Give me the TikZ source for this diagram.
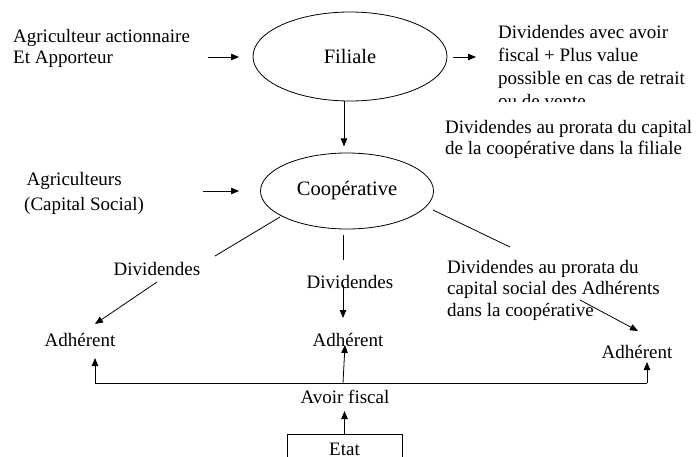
\documentclass[tikz,border=0pt]{standalone}
\usepackage{fontspec}
\setmainfont{Liberation Serif}
\usetikzlibrary{arrows.meta,shapes.geometric}

\begin{document}
\begin{tikzpicture}[x=1pt,y=-1pt,
  txt/.style={inner sep=0pt, font=\fontsize{19}{21.5}\selectfont, align=left},
  oval/.style={draw, ellipse, line width=0.8pt, inner sep=0pt,
               font=\fontsize{20.5}{24}\selectfont},
  link/.style={line width=0.8pt},
  flow/.style={line width=0.8pt, -{Triangle[length=8pt,width=6.5pt]}},
]
\clip (0,0) rectangle (696,456);
\fill[white] (0,0) rectangle (696,456);

% --- top row: shareholders, subsidiary, returns
\node[oval, minimum width=194pt, minimum height=89pt] (fil) at (350,56.5) {Filiale};
\node[txt, anchor=west] (actio) at (13,48.5)
  {Agriculteur actionnaire\\Et Apporteur};
\coordinate (actioEnd) at (208,57);
\draw[flow] (actioEnd) -- ++(31,0);
\coordinate (filOut) at (453,57);
\draw[flow] (filOut) -- ++(23,0);
\begin{scope}
  \clip (490,10) rectangle (696,101);
  \node[txt, anchor=west, font=\fontsize{19}{22.7}\selectfont] (gain) at (498,66.5)
    {Dividendes avec avoir\\fiscal + Plus value\\possible en cas de retrait\\ou de vente};
\end{scope}

% --- subsidiary to cooperative
\draw[flow] ([xshift=-6pt]fil.south) -- ++(0,45);
\node[txt, anchor=west, font=\fontsize{19}{21}\selectfont] (prorataF) at (445,139.5)
  {Dividendes au prorata du capital\\de la coopérative dans la filiale};

% --- cooperative
\node[oval, minimum width=173pt, minimum height=76pt] (coop) at (347,191) {Coopérative};
\node[txt, anchor=west, font=\fontsize{19}{25}\selectfont] (agri) at (24,193.5)
  {\hspace*{2.5pt}Agriculteurs\\(Capital Social)};
\coordinate (agriEnd) at (203,191);
\draw[flow] (agriEnd) -- ++(36,0);

% --- dividends paid to members
\node[txt] (divL) at (157,269) {Dividendes};
\node[txt] (divM) at (350,282) {Dividendes};
\node[txt, anchor=west, font=\fontsize{19}{21.5}\selectfont] (divR) at (447,290)
  {Dividendes au prorata du\\capital social des Adhérents\\dans la coopérative};

\node[txt] (adhL) at (80,340) {Adhérent};
\node[txt] (adhM) at (348,340) {Adhérent};
\node[txt] (adhR) at (637,352) {Adhérent};

\coordinate (cL1) at (280,217); \coordinate (cL2) at (215,256);
\coordinate (cL3) at (157,282); \coordinate (cL4) at (95,324);
\draw[link] (cL1) -- (cL2);
\draw[flow] (cL3) -- (cL4);

\coordinate (cM1) at (343,235); \coordinate (cM2) at (343,260);
\coordinate (cM3) at (343,285); \coordinate (cM4) at (343,318);
\draw[link] (cM1) -- (cM2);
\draw[flow] (cM3) -- (cM4);

\coordinate (cR1) at (433,210); \coordinate (cR2) at (510,247);
\coordinate (cR3) at (580,300); \coordinate (cR4) at (638,331);
\draw[link] (cR1) -- (cR2);
\draw[flow] (cR3) -- (cR4);

% --- tax credit from the State
\node[txt] (avoir) at (345,397) {Avoir fiscal};
\node[draw, line width=0.8pt, txt, minimum width=115pt, minimum height=30pt,
      anchor=north] (etat) at (344.5,434) {Etat};
\draw[flow] (etat.north) -- ++(0,-23);

\coordinate (barL) at (95,383); \coordinate (barM) at (343,383);
\coordinate (barR) at (647,383);
\draw[link] (barL) -- (barR);
\draw[flow] (barL) -- ++(0,-25);
\draw[flow] (barM) -- (345,345);
\draw[flow] (barR) -- ++(0,-21);
\end{tikzpicture}
\end{document}
